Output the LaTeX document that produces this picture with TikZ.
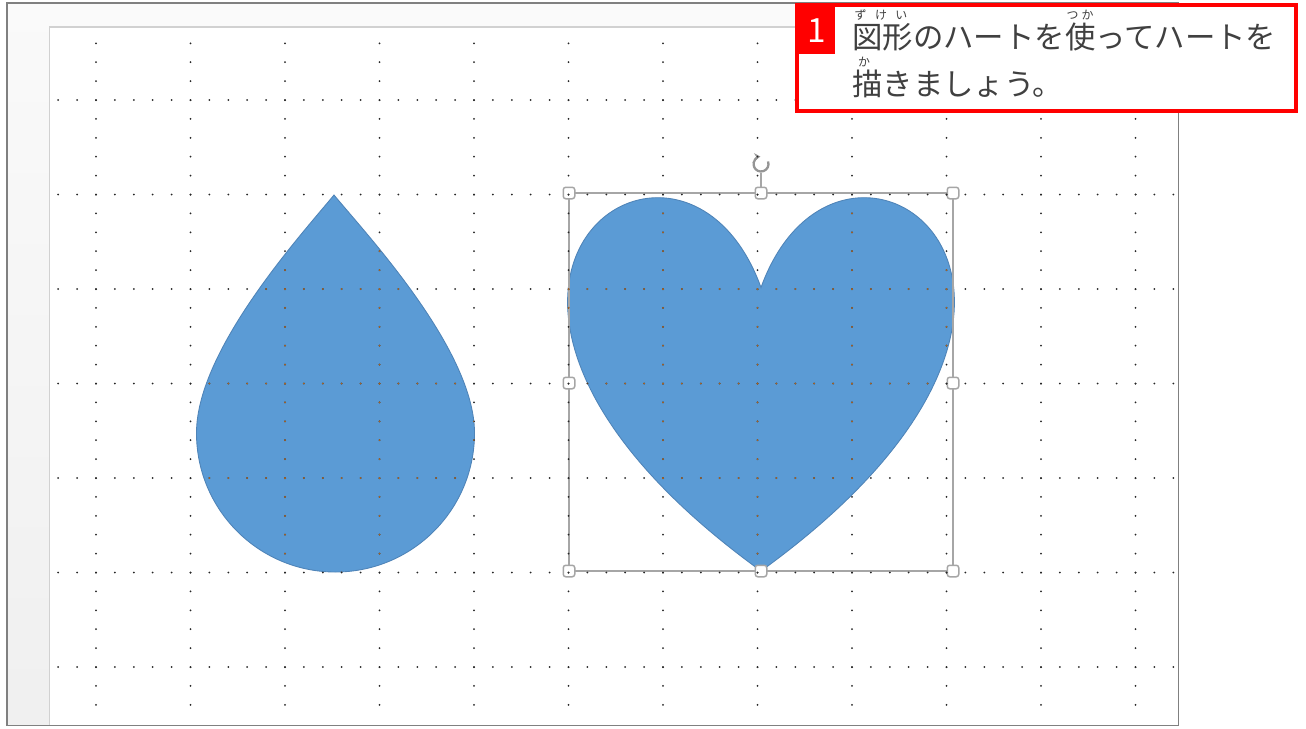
\documentclass[tikz,border=0pt]{standalone}
\usepackage{fontspec}
\newfontfamily\jpfont{Noto Sans CJK JP}
\usetikzlibrary{arrows.meta}
\definecolor{shapeblue}{HTML}{5B9BD5}
\definecolor{shapeline}{HTML}{4F84B8}
\definecolor{dotink}{HTML}{A4642A}
\definecolor{selgray}{HTML}{A6A6A6}
\definecolor{txtgray}{HTML}{404040}
\definecolor{memored}{HTML}{FF0000}
\tikzset{
  handle/.style={draw=selgray, fill=white, rounded corners=0.05cm, minimum size=0.23cm, inner sep=0pt, line width=0.85pt},
  shapefill/.style={fill=shapeblue, draw=shapeline, line width=0.5pt},
  ruby/.style={inner sep=0pt, text=txtgray, font=\jpfont\fontsize{6.8}{6.8}\selectfont},
  memotext/.style={inner sep=0pt, anchor=west, text=txtgray, font=\jpfont\fontsize{17.3}{17.3}\selectfont}
}
\newcommand\griddots[1]{%
  \foreach \rw in {0,...,6}
    \foreach \ci in {0,...,59}
      \fill[#1] (58.2+18.9*\ci, 100+94.5*\rw) circle[radius=0.02cm];
  \foreach \cl in {0,...,11}
    \foreach \cj in {-3,...,32}
      \fill[#1] (96+94.5*\cl, 100+18.9*\cj) circle[radius=0.02cm];
}
\newcommand\dropshape{(334,195) .. controls (301,235) and (196.5,350) .. (196.5,433)
  .. controls (196.5,509.8) and (258.7,572) .. (335.5,572)
  .. controls (412.3,572) and (474.5,509.8) .. (474.5,433)
  .. controls (474.5,350) and (367,235) .. (334,195) -- cycle}
\newcommand\heartshape{(761,287.5) .. controls (841,67) and (1153,287.5) .. (761,571)
  .. controls (369,287.5) and (681,67) .. (761,287.5) -- cycle}
\begin{document}
\begin{tikzpicture}[x=0.02cm, y=-0.02cm]
\useasboundingbox (0,0) rectangle (1306,728);
\fill[white] (0,0) rectangle (1306,728);
% slide window
\shade[top color=black!2, bottom color=black!6] (7,3) rectangle (1178.5,725.5);
\fill[white] (49.5,27) rectangle (1177.5,724.5);
\draw[black!18, line width=1pt] (49.5,724.5)--(49.5,27)--(1177.5,27);
\draw[black!50, line width=1.1pt] (7,3) rectangle (1178.5,725.5);
% shapes
\filldraw[shapefill] \dropshape;
\filldraw[shapefill] \heartshape;
% selection of the heart
\draw[selgray, line width=0.85pt] (569,193) rectangle (953,571);
\node[handle] (hnw) at (569,193) {};
\node[handle] (hn) at (761,193) {};
\node[handle] (hne) at (953,193) {};
\node[handle] (hw) at (569,383) {};
\node[handle] (he) at (953,383) {};
\node[handle] (hsw) at (569,571) {};
\node[handle] (hs) at (761,571) {};
\node[handle] (hse) at (953,571) {};
\node[circle, minimum size=0.34cm, inner sep=0pt] (rot) at (761,164) {};
\draw[selgray, line width=0.85pt] (rot.south)--(hn.north);
\draw[selgray!90!black, line width=1.3pt, -{Stealth[length=3.4pt,width=4.4pt]}] ([shift={(20:0.15cm)}]rot.center) arc[start angle=20, end angle=-265, radius=0.15cm];
% grid
\griddots{black!85}
\begin{scope}
\clip \dropshape \heartshape;
\griddots{dotink}
\end{scope}
% note
\draw[memored, fill=white, line width=2.3pt] (797,5) rectangle (1296,111);
\fill[memored] (799,7) rectangle (835,54);
\node[text=white, font=\jpfont\fontsize{19}{19}\selectfont, inner sep=0pt] (num) at (817,31) {1};
\node[memotext] (line1) at (852,37.5) {図形のハートを使ってハートを};
\node[memotext] (line2) at (852,83.5) {描きましょう。};
\node[ruby] (ruby1) at (881,15) {ず\hspace{0.17cm}け\hspace{0.17cm}い};
\node[ruby] (ruby2) at (1080,15) {つ\hspace{0.06cm}か};
\node[ruby] (ruby3) at (864,62) {か};
\end{tikzpicture}
\end{document}
